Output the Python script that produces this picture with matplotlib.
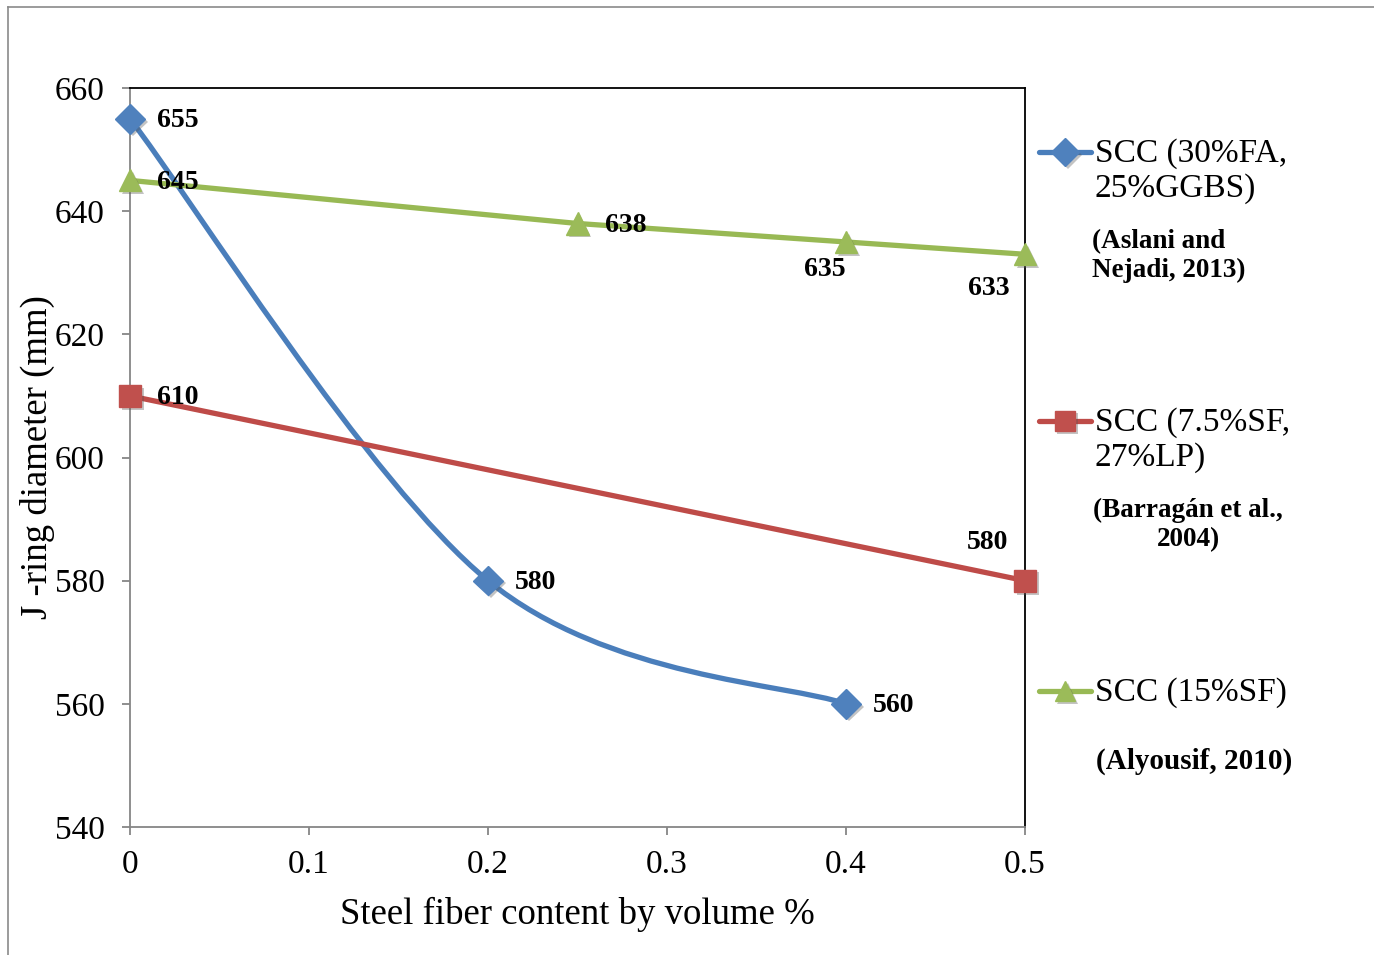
import numpy as np
import matplotlib
matplotlib.use("Agg")
import matplotlib.pyplot as plt
import matplotlib.patheffects as pe
from matplotlib.path import Path
from matplotlib.patches import PathPatch
from matplotlib.lines import Line2D

plt.rcParams['font.family'] = ['Liberation Serif', 'DejaVu Serif']

# J-ring diameter vs steel fiber content for three SCC mixes
fa_x = [0.0, 0.2, 0.4]
fa_y = [655, 580, 560]
lp_x = [0.0, 0.5]
lp_y = [610, 580]
sf_x = [0.0, 0.25, 0.4, 0.5]
sf_y = [645, 638, 635, 633]

fa_name = "SCC (30%FA,\n25%GGBS)"
lp_name = "SCC (7.5%SF,\n27%LP)"
sf_name = "SCC (15%SF)"
fa_ref = "(Aslani and\nNejadi, 2013)"
lp_ref = "(Barragán et al.,\n2004)"
sf_ref = "(Alyousif, 2010)"

blue_line, blue_mark = '#4A7EBB', '#4F81BD'
red_line, red_mark = '#BE4B48', '#C0504D'
green_line, green_mark = '#98B954', '#9BBB59'

mshadow = [pe.withSimplePatchShadow(offset=(2, -2), alpha=0.35, shadow_rgbFace='#555555')]


def smooth_path(xs, ys):
    # excel style smoothed line: catmull-rom segments as cubic beziers
    pts = np.column_stack([xs, ys]).astype(float)
    n = len(pts)
    verts = [pts[0]]
    codes = [Path.MOVETO]
    for i in range(n - 1):
        p0 = pts[max(i - 1, 0)]
        p1 = pts[i]
        p2 = pts[i + 1]
        p3 = pts[min(i + 2, n - 1)]
        c1 = p1 + (p2 - p0) / 6.0
        c2 = p2 - (p3 - p1) / 6.0
        verts += [c1, c2, p2]
        codes += [Path.CURVE4] * 3
    return Path(verts, codes)


fig = plt.figure(figsize=(13.74, 9.55), dpi=100)
ax = fig.add_axes([130 / 1374, 1 - 827 / 955, (1025 - 130) / 1374, (827 - 88) / 955])

# blue smoothed curve
ax.add_patch(PathPatch(smooth_path(fa_x, fa_y), facecolor='none', edgecolor=blue_line,
                       lw=3.8, capstyle='round', zorder=3))
ax.plot(fa_x, fa_y, ls='none', marker='D', ms=15, color=blue_mark, zorder=4,
        path_effects=mshadow, clip_on=False)

ax.plot(lp_x, lp_y, color=red_line, lw=3.8, solid_capstyle='round', zorder=3)
ax.plot(lp_x, lp_y, ls='none', marker='s', ms=16, color=red_mark,
        path_effects=mshadow, zorder=4, clip_on=False)

ax.plot(sf_x, sf_y, color=green_line, lw=3.8, solid_capstyle='round', zorder=3)
ax.plot(sf_x, sf_y, ls='none', marker='^', ms=16, color=green_mark,
        path_effects=mshadow, zorder=4, clip_on=False)

# data labels
lbl = dict(fontsize=20, fontweight='bold', textcoords='offset pixels', va='center', zorder=6)
fa_off = [(27, -2, 'left'), (27, -2, 'left'), (27, -2, 'left')]
lp_off = [(27, -2, 'left'), (-17, 38, 'right')]
sf_off = [(27, -2, 'left'), (27, -2, 'left'), (0, -28, 'right'), (-15, -34, 'right')]
for xs, ys, offs in [(fa_x, fa_y, fa_off), (lp_x, lp_y, lp_off), (sf_x, sf_y, sf_off)]:
    for x, y, (dx, dy, ha) in zip(xs, ys, offs):
        ax.annotate(str(y), (x, y), xytext=(dx, dy), ha=ha, **lbl)

ax.set_xlim(0, 0.5)
ax.set_ylim(540, 660)
ax.set_xticks(np.arange(0, 0.51, 0.1))
ax.set_xticklabels(['0', '0.1', '0.2', '0.3', '0.4', '0.5'])
ax.set_yticks(np.arange(540, 661, 20))

ax.spines['left'].set_color('#868686')
ax.spines['bottom'].set_color('#868686')
ax.spines['top'].set_color('black')
ax.spines['right'].set_color('black')
for s in ax.spines.values():
    s.set_linewidth(1.3)
ax.tick_params(axis='both', direction='out', length=6, width=1.3, color='#868686',
               labelsize=24)
ax.tick_params(axis='y', pad=12)
ax.tick_params(axis='x', pad=10)

ax.set_xlabel('Steel fiber content by volume %', fontsize=26.5, labelpad=12)
ax.set_ylabel('J -ring diameter (mm)', fontsize=26.5, va='center')
ax.yaxis.set_label_coords((37 - 130) / 895, 0.5)


# legend drawn by hand with citations under each entry
def legend_entry(y_px, color, mcolor, marker, ms, name, ref, ref_y_px, ref_x_px, ref_ha,
                 ref_align, ref_size):
    y = 1 - y_px / 955
    fig.add_artist(Line2D([1039 / 1374, 1091 / 1374], [y, y], color=color, lw=3.8,
                          solid_capstyle='round', transform=fig.transFigure))
    fig.add_artist(Line2D([1065 / 1374], [y], marker=marker, ms=ms, color=mcolor,
                          transform=fig.transFigure, path_effects=mshadow))
    fig.text(1095 / 1374, 1 - (y_px - 14) / 955, name, fontsize=24, va='top', ha='left',
             linespacing=1.2)
    fig.text(ref_x_px / 1374, 1 - ref_y_px / 955, ref, fontsize=ref_size, fontweight='bold',
             va='top', ha=ref_ha, multialignment=ref_align, linespacing=1.2)


legend_entry(152, blue_line, blue_mark, 'D', 14, fa_name, fa_ref, 229, 1092, 'left', 'left', 19.5)
legend_entry(421, red_line, red_mark, 's', 15, lp_name, lp_ref, 498, 1188, 'center', 'center', 19.5)
legend_entry(691, green_line, green_mark, '^', 15, sf_name, sf_ref, 748, 1096, 'left', 'left', 21)

# outer frame
fig.add_artist(Line2D([8 / 1374, 8 / 1374], [0, 1 - 7 / 955], color='#8a8a8a', lw=1.2,
                      transform=fig.transFigure))
fig.add_artist(Line2D([8 / 1374, 1], [1 - 7 / 955, 1 - 7 / 955], color='#8a8a8a', lw=1.2,
                      transform=fig.transFigure))

fig.savefig('out.png', dpi=100)
